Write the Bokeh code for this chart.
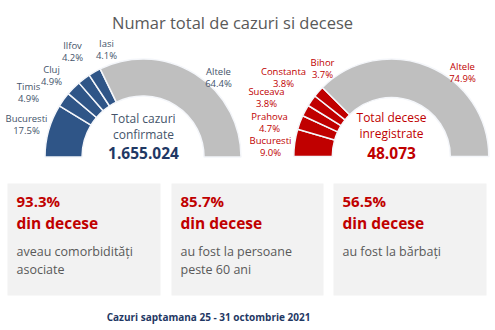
import numpy as np
from bokeh.plotting import figure
from bokeh.models import Range1d, ColumnDataSource
from bokeh.core.properties import value
from bokeh.embed import file_html
from bokeh.resources import INLINE

# ---- data ----
title = "Numar total de cazuri si decese"
cases_regions = ["Bucuresti", "Timis", "Cluj", "Ilfov", "Iasi", "Altele"]
cases_pct = [17.5, 4.9, 4.9, 4.2, 4.1, 64.4]
deaths_regions = ["Bucuresti", "Prahova", "Suceava", "Constanta", "Bihor", "Altele"]
deaths_pct = [9.0, 4.7, 3.8, 3.8, 3.7, 74.9]
cases_total_label = ["Total cazuri", "confirmate"]
cases_total = "1.655.024"
deaths_total_label = ["Total decese", "inregistrate"]
deaths_total = "48.073"
stat_pct = ["93.3%", "85.7%", "56.5%"]
stat_sub = ["din decese", "din decese", "din decese"]
stat_desc = [["aveau comorbidități", "asociate"],
             ["au fost la persoane", "peste 60 ani"],
             ["au fost la bărbați"]]
footer = "Cazuri saptamana 25 - 31 octombrie 2021"

W, H = 495, 330
FONT = "Open Sans"
BLUE = "#2F5587"
RED = "#C00000"
GRAY = "#BFBFBF"
LBLUE = "#44546A"
DARK = "#595959"
NAVY = "#1F3864"

def Y(py):
    return H - py

p = figure(width=W, height=H, output_backend="svg", toolbar_location=None,
           x_range=Range1d(0, W), y_range=Range1d(0, H), min_border=0)
p.axis.visible = False
p.grid.visible = False
p.outline_line_color = None
p.background_fill_color = "white"
p.border_fill_color = "white"

def txt(x, y, s, size, color, bold=False, align="center"):
    p.text(x=[x], y=[Y(y)], text=[s], text_font=value(FONT),
           text_font_size=f"{size}px", text_color=color,
           text_font_style="bold" if bold else "normal",
           text_align=align, text_baseline="middle")

txt(232, 22, title, 16.5, DARK)

def donut(cx, cy, r_in, r_out, pcts, main_color):
    vals = np.array(pcts, dtype=float)
    frac = vals / vals.sum()
    cum = np.concatenate([[0], np.cumsum(frac)])
    start = np.pi - cum[1:] * np.pi
    end = np.pi - cum[:-1] * np.pi
    colors = [main_color] * (len(pcts) - 1) + [GRAY]
    src = ColumnDataSource(dict(x=[cx] * len(pcts), y=[Y(cy)] * len(pcts),
                                s=start, e=end, c=colors))
    p.annular_wedge(x="x", y="y", inner_radius=r_in, outer_radius=r_out,
                    start_angle="s", end_angle="e", fill_color="c",
                    line_color="#F4F6FA", line_width=1.5, source=src)

donut(142.5, 156.5, 61, 98, cases_pct, BLUE)
donut(390.8, 156, 59, 97.5, deaths_pct, RED)

# labels (name above, pct below)
cases_lab_pos = [(26, 118), (28, 86), (51, 69), (72, 45), (106, 43), (218, 71)]
for (x, y), name, v in zip(cases_lab_pos, cases_regions, cases_pct):
    txt(x, y, name, 9.5, LBLUE)
    txt(x, y + 11.5, f"{v:.1f}%", 9.5, LBLUE)

deaths_lab_pos = [(270, 140), (269, 116), (266, 91), (283, 71), (322, 62), (462, 66)]
for (x, y), name, v in zip(deaths_lab_pos, deaths_regions, deaths_pct):
    txt(x, y, name, 9.5, RED)
    txt(x, y + 12, f"{v:.1f}%", 9.5, RED)

txt(143, 118, cases_total_label[0], 12, LBLUE)
txt(143, 134, cases_total_label[1], 12, LBLUE)
txt(143, 152, cases_total, 15.5, NAVY, bold=True)
txt(391, 117, deaths_total_label[0], 12, RED)
txt(391, 133, deaths_total_label[1], 12, RED)
txt(391, 152, deaths_total, 15.5, RED, bold=True)

# boxes
boxes = [(7, 160), (171, 323), (333, 486)]
p.quad(left=[b[0] for b in boxes], right=[b[1] for b in boxes],
       bottom=[Y(295)] * 3, top=[Y(183)] * 3, fill_color="#F2F2F2", line_color=None)
for (l, r), a, b, d in zip(boxes, stat_pct, stat_sub, stat_desc):
    x0 = l + 9
    txt(x0, 200, a, 15, RED, bold=True, align="left")
    txt(x0, 222, b, 15.5, RED, bold=True, align="left")
    for i, line in enumerate(d):
        txt(x0, 251 + i * 18, line, 12.5, DARK, align="left")

txt(208, 316, footer, 10, NAVY, bold=True)

open("out.html", "w").write(file_html(p, INLINE))
